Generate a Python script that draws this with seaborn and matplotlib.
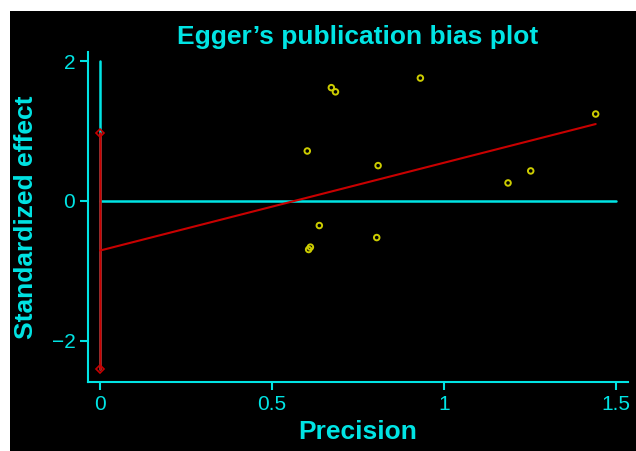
import matplotlib
matplotlib.use("Agg")
import matplotlib.pyplot as plt
import seaborn as sns
import numpy as np
import pandas as pd
from matplotlib.patches import Rectangle

# ---- data ----
precision = [0.673, 0.685, 0.932, 0.603, 0.809, 0.638, 0.805, 0.612, 0.607, 1.442, 1.253, 1.187]
std_effect = [1.62, 1.56, 1.757, 0.714, 0.505, -0.352, -0.524, -0.661, -0.695, 1.243, 0.429, 0.257]
egger_intercept = -0.71
egger_slope = 1.255
ci_low = -2.41
ci_high = 0.97
x_ticks = [0, 0.5, 1, 1.5]
x_tick_labels = ["0", "0.5", "1", "1.5"]
y_ticks = [-2, 0, 2]
y_tick_labels = ["\u22122", "0", "2"]

CYAN = "#00e4e4"
YELLOW = "#cccc00"
RED = "#c80000"

sns.set_theme(style="dark")
plt.rcParams["font.family"] = ["Liberation Sans", "DejaVu Sans"]

fig = plt.figure(figsize=(6.36, 4.51), dpi=100)
fig.patch.set_facecolor("white")
fig.patches.append(Rectangle((10 / 636, 0), 1 - 10 / 636, 1 - 11 / 451,
                             transform=fig.transFigure, facecolor="black",
                             edgecolor="none", zorder=-10))

ax = fig.add_axes([87.8 / 636, 1 - 382 / 451, (628 - 87.8) / 636, (382 - 52) / 451])
ax.set_facecolor("black")

df = pd.DataFrame({"precision": precision, "effect": std_effect})

# zero reference line and vertical axis line at x=0
ax.plot([0, 1.5], [0, 0], color=CYAN, lw=1.8, zorder=1)
ax.plot([0, 0], [ci_low, 2], color=CYAN, lw=1.8, zorder=1)

# Egger regression line
line_x = np.array([0, max(precision)])
line_df = pd.DataFrame({"x": line_x, "y": egger_intercept + egger_slope * line_x})
sns.lineplot(data=line_df, x="x", y="y", color=RED, lw=1.5, ax=ax, zorder=3)

# CI of intercept
ci_df = pd.DataFrame({"x": [0, 0], "y": [ci_low, ci_high]})
sns.lineplot(data=ci_df, x="x", y="y", color=RED, lw=1.8, ax=ax, zorder=4,
             estimator=None, sort=False,
             marker="D", markersize=4, markerfacecolor="none",
             markeredgecolor=RED, markeredgewidth=1.2)

# studies
sns.scatterplot(data=df, x="precision", y="effect", ax=ax, marker="o", s=16,
                facecolor="none", edgecolor=YELLOW, linewidth=1.4, zorder=5)

ax.set_xlim(-0.0355, 1.536)
ax.set_ylim(-2.59, 2.13)
ax.set_xticks(x_ticks)
ax.set_xticklabels(x_tick_labels)
ax.set_yticks(y_ticks)
ax.set_yticklabels(y_tick_labels)
ax.grid(False)

for s in ["top", "right"]:
    ax.spines[s].set_visible(False)
for s in ["left", "bottom"]:
    ax.spines[s].set_visible(True)
    ax.spines[s].set_color(CYAN)
    ax.spines[s].set_linewidth(1.5)

ax.tick_params(axis="both", colors=CYAN, labelcolor=CYAN, length=6, width=1.5,
               direction="out", labelsize=15, pad=3, bottom=True, left=True)

ax.set_xlabel("Precision", color=CYAN, fontsize=19, fontweight="bold", labelpad=5)
ax.set_ylabel("Standardized effect", color=CYAN, fontsize=19, fontweight="bold", labelpad=10)
ax.set_title("Egger\u2019s publication bias plot", color=CYAN, fontsize=19,
             fontweight="bold", pad=6)

fig.savefig("out.png", dpi=100, facecolor=fig.get_facecolor())
